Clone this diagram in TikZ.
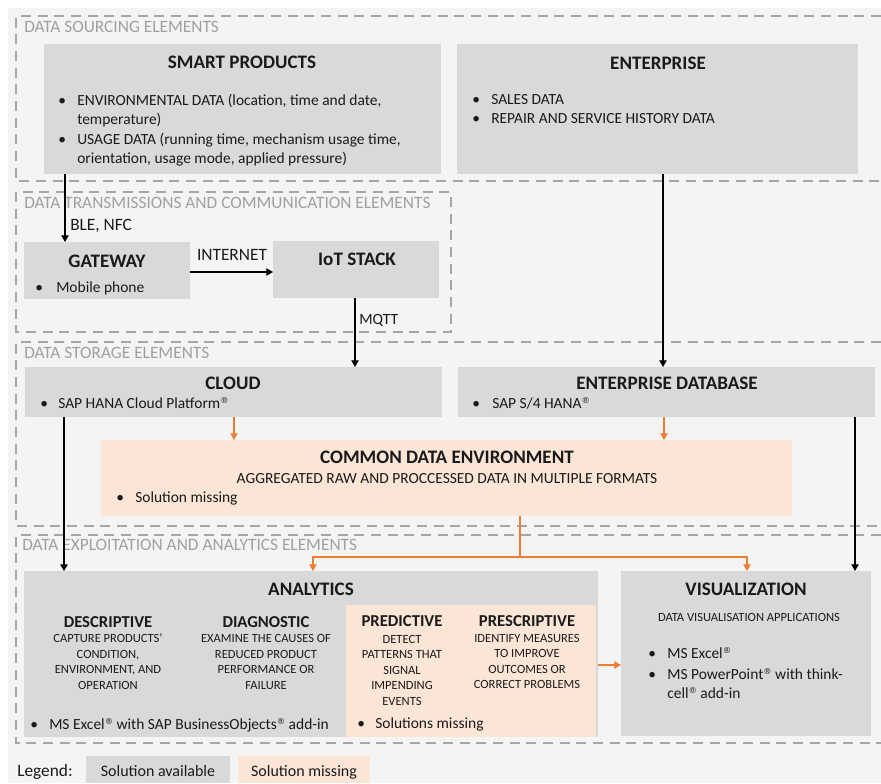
\documentclass[tikz,border=0pt]{standalone}
\usepackage{fontspec}
\setmainfont{Carlito}
\newfontfamily\symfont{DejaVu Sans}
\usetikzlibrary{arrows.meta}
\definecolor{bg}{HTML}{F4F4F4}
\definecolor{boxg}{HTML}{D9D9D9}
\definecolor{boxo}{HTML}{FBE5D6}
\definecolor{oline}{HTML}{ED7D31}
\definecolor{dashg}{HTML}{A6A6A6}
\definecolor{labg}{HTML}{A0A0A0}
\definecolor{ink}{HTML}{1A1A1A}
\newcommand{\reg}{\raisebox{3.4pt}{\symfont\fontsize{6.2}{6.2}\selectfont ®}}
\begin{document}
\begin{tikzpicture}[x=0.75pt,y=-0.75pt,
  box/.style={inner sep=0pt, outer sep=0pt, anchor=north west, draw=none},
  gbox/.style={box, fill=boxg},
  obox/.style={box, fill=boxo},
  sz/.style 2 args={minimum width=#1*0.75pt, minimum height=#2*0.75pt},
  sect/.style={draw=dashg, line width=1.5pt, dash pattern=on 7.5pt off 5pt},
  t/.style={inner sep=0pt, anchor=base west, text=ink, font=\fontsize{11.6}{14}\selectfont},
  tc/.style={t, anchor=base},
  ttl/.style={inner sep=0pt, anchor=base, text=ink, font=\fontsize{14.3}{17}\selectfont\bfseries},
  subh/.style={inner sep=0pt, anchor=base, text=ink, font=\fontsize{12.5}{15}\selectfont\bfseries},
  sm/.style={inner sep=0pt, anchor=base, text=ink, font=\fontsize{9.4}{11}\selectfont},
  sec/.style={inner sep=0pt, anchor=base west, text=labg, font=\fontsize{13}{15}\selectfont},
  lbl/.style={inner sep=0pt, anchor=base west, text=ink, font=\fontsize{13}{15}\selectfont},
  arr/.style={draw=black, line width=0.8pt, -{Triangle[width=5.5pt,length=5pt]}},
  oarr/.style={draw=oline, line width=0.9pt, -{Triangle[width=5.5pt,length=5pt]}},
  oln/.style={draw=oline, line width=0.9pt},
]
\useasboundingbox (0,0) rectangle (881,783);
\fill[white] (0,0) rectangle (881,783);
\fill[bg] (8,8) rectangle (881,783);

% sections
\draw[sect] (881,16) -| (16,181) -- (881,181);
\draw[sect] (16,192) rectangle (451,332);
\draw[sect] (881,342) -| (16,526) -- (881,526);
\draw[sect] (881,535) -| (16,743) -- (881,743);
\node[sec] (s1) at (24,32.6) {DATA SOURCING ELEMENTS};
\node[sec] (s2) at (24,208.6) {DATA TRANSMISSIONS AND COMMUNICATION ELEMENTS};
\node[sec] (s3) at (24,358.6) {DATA STORAGE ELEMENTS};
\node[sec] (s4) at (22,550.6) {DATA EXPLOITATION AND ANALYTICS ELEMENTS};

% boxes
\node[gbox, sz={397}{130}] (smart) at (44,44) {};
\node[gbox, sz={401}{130}] (enterprise) at (457,44) {};
\node[gbox, sz={166}{57}] (gateway) at (24,242) {};
\node[gbox, sz={166}{57}] (iot) at (273,241) {};
\node[gbox, sz={417}{50}] (cloud) at (25,367) {};
\node[gbox, sz={417}{50}] (entdb) at (458,367) {};
\node[obox, sz={691}{76}] (cde) at (101,440) {};
\node[gbox, sz={574}{166}] (analytics) at (24,571) {};
\node[obox, sz={250}{132}] (anmiss) at (346,605) {};
\node[gbox, sz={250}{165}] (vis) at (621,571) {};
\node[gbox, sz={144}{27}] (lega) at (86,756) {};
\node[obox, sz={132}{27}] (legb) at (238,756) {};

% smart products
\node[ttl] (smartT) at (242,68.6) {SMART PRODUCTS};
\node[t] (sb1) at (58,105) {\textbullet};
\node[t] (sl1) at (77,105) {ENVIRONMENTAL DATA (location, time and date,};
\node[t] (sl2) at (77,124.5) {temperature)};
\node[t] (sb2) at (58,144) {\textbullet};
\node[t] (sl3) at (77,144) {USAGE DATA (running time, mechanism usage time,};
\node[t] (sl4) at (77,163.3) {orientation, usage mode, applied pressure)};

% enterprise
\node[ttl] (entT) at (658,69) {ENTERPRISE};
\node[t] (eb1) at (472,104) {\textbullet};
\node[t] (el1) at (491,104) {SALES DATA};
\node[t] (eb2) at (472,123.3) {\textbullet};
\node[t] (el2) at (491,123.3) {REPAIR AND SERVICE HISTORY DATA};

% gateway / iot
\node[ttl] (gwT) at (107,267) {GATEWAY};
\node[t] (gb1) at (35,292) {\textbullet};
\node[t] (gl1) at (56,292) {Mobile phone};
\node[ttl] (iotT) at (357,265) {IoT STACK};

% cloud / enterprise db
\node[ttl] (cloudT) at (233,389) {CLOUD};
\node[t] (cb1) at (40,408) {\textbullet};
\node[t] (cl1) at (58,408) {SAP HANA Cloud Platform\reg};
\node[ttl] (edbT) at (667,389) {ENTERPRISE DATABASE};
\node[t] (db1) at (472,408) {\textbullet};
\node[t] (dl1) at (492,408) {SAP S/4 HANA\reg};

% common data environment
\node[ttl] (cdeT) at (447,463) {COMMON DATA ENVIRONMENT};
\node[tc] (cdeS) at (447,483) {AGGREGATED RAW AND PROCCESSED DATA IN MULTIPLE FORMATS};
\node[t] (xb1) at (116,502) {\textbullet};
\node[t] (xl1) at (135,502) {Solution missing};

% analytics
\node[ttl] (anT) at (311,595) {ANALYTICS};
\node[subh] (desT) at (108,627.4) {DESCRIPTIVE};
\node[sm] (des1) at (108,642) {CAPTURE PRODUCTS'};
\node[sm] (des2) at (108,658) {CONDITION,};
\node[sm] (des3) at (108,673.5) {ENVIRONMENT, AND};
\node[sm] (des4) at (108,689) {OPERATION};
\node[subh] (diaT) at (266,627.4) {DIAGNOSTIC};
\node[sm] (dia1) at (266,642) {EXAMINE THE CAUSES OF};
\node[sm] (dia2) at (266,658) {REDUCED PRODUCT};
\node[sm] (dia3) at (266,673.5) {PERFORMANCE OR};
\node[sm] (dia4) at (266,689) {FAILURE};
\node[subh] (preT) at (402,626.4) {PREDICTIVE};
\node[sm] (pre1) at (402,643) {DETECT};
\node[sm] (pre2) at (402,658.5) {PATTERNS THAT};
\node[sm] (pre3) at (402,674) {SIGNAL};
\node[sm] (pre4) at (402,689.5) {IMPENDING};
\node[sm] (pre5) at (402,705) {EVENTS};
\node[subh] (prsT) at (527,626.4) {PRESCRIPTIVE};
\node[sm] (prs1) at (527,642) {IDENTIFY MEASURES};
\node[sm] (prs2) at (527,657.5) {TO IMPROVE};
\node[sm] (prs3) at (527,673) {OUTCOMES OR};
\node[sm] (prs4) at (527,688) {CORRECT PROBLEMS};
\node[t] (ab1) at (30,729) {\textbullet};
\node[t] (al1) at (49,729) {MS Excel\reg{} with SAP BusinessObjects\reg{} add-in};
\node[t] (mb1) at (357,728) {\textbullet};
\node[t] (ml1) at (375,728) {Solutions missing};

% visualization
\node[ttl] (visT) at (746,595) {VISUALIZATION};
\node[sm] (visS) at (749,621) {DATA VISUALISATION APPLICATIONS};
\node[t] (vb1) at (648,658) {\textbullet};
\node[t] (vl1) at (667,658) {MS Excel\reg};
\node[t] (vb2) at (648,679) {\textbullet};
\node[t] (vl2) at (667,679) {MS PowerPoint\reg{} with think-};
\node[t] (vl3) at (667,698) {cell\reg{} add-in};

% legend
\node[lbl] (legT) at (17,776.7) {Legend:};
\node[tc, font=\fontsize{12}{14}\selectfont] (legaT) at (158,776) {Solution available};
\node[tc, font=\fontsize{12}{14}\selectfont] (legbT) at (304,776) {Solution missing};

% connectors
\coordinate (xa) at (65,0);
\draw[arr] (smart.south -| xa) -- (gateway.north -| xa);
\node[lbl] (ble) at (70,230.6) {BLE, NFC};
\coordinate (ya) at (0,272);
\draw[arr] (gateway.east |- ya) -- (iot.west |- ya);
\node[lbl, anchor=base] (inet) at (232,260.6) {INTERNET};
\coordinate (xb) at (355,0);
\draw[arr] (iot.south -| xb) -- (cloud.north -| xb);
\node[t, font=\fontsize{11.7}{14}\selectfont] (mqtt) at (359,324) {MQTT};
\coordinate (xc) at (663,0);
\draw[arr] (enterprise.south -| xc) -- (entdb.north -| xc);
\coordinate (xd) at (234,0);
\draw[oarr] (cloud.south -| xd) -- (cde.north -| xd);
\coordinate (xe) at (664,0);
\draw[oarr] (entdb.south -| xe) -- (cde.north -| xe);
\coordinate (split) at (520,557);
\draw[oln] (cde.south -| split) -- (split);
\coordinate (xf) at (313,0);
\draw[oarr] (split) -| (analytics.north -| xf);
\coordinate (xg) at (747,0);
\draw[oarr] (split) -| (vis.north -| xg);
\coordinate (xh) at (64,0);
\draw[arr] (cloud.south -| xh) -- (analytics.north -| xh);
\coordinate (xi) at (855,0);
\draw[arr] (entdb.south -| xi) -- (vis.north -| xi);
\coordinate (yb) at (0,665);
\draw[oarr] (analytics.east |- yb) -- (vis.west |- yb);
\end{tikzpicture}
\end{document}
